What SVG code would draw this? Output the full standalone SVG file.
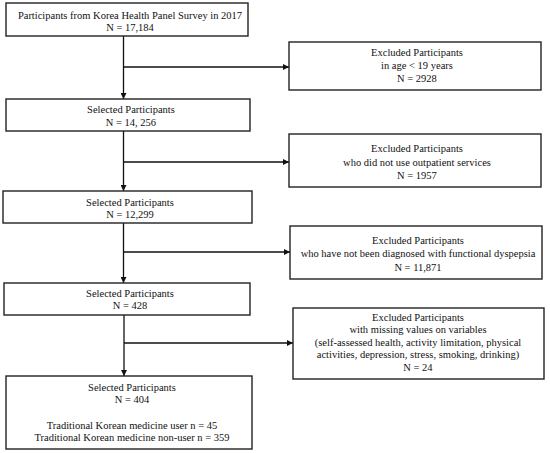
<svg xmlns="http://www.w3.org/2000/svg" width="550" height="453" viewBox="0 0 550 453">
<style>
.box{fill:#fff;stroke:#222;stroke-width:1.4}
.t{font-family:"Liberation Serif","Times New Roman",serif;font-size:10.5px;fill:#111;text-anchor:middle}
.c{fill:none;stroke:#111;stroke-width:1.3}
</style>
<defs>
<marker id="ah" viewBox="0 0 10 10" refX="10" refY="5" markerWidth="6" markerHeight="6" markerUnits="userSpaceOnUse" orient="auto">
<path d="M0,0 L10,5 L0,10 z" fill="#111"/>
</marker>
</defs>
<rect width="550" height="453" fill="#fff"/>
<g id="connectors">
<line class="c" x1="123.5" y1="36" x2="123.5" y2="99" marker-end="url(#ah)"/>
<line class="c" x1="123.5" y1="67" x2="289" y2="67" marker-end="url(#ah)"/>
<line class="c" x1="123.5" y1="131" x2="123.5" y2="191" marker-end="url(#ah)"/>
<line class="c" x1="123.5" y1="162" x2="289" y2="162" marker-end="url(#ah)"/>
<line class="c" x1="123.5" y1="223" x2="123.5" y2="283" marker-end="url(#ah)"/>
<line class="c" x1="123.5" y1="252" x2="290" y2="252" marker-end="url(#ah)"/>
<line class="c" x1="124" y1="315" x2="124" y2="376" marker-end="url(#ah)"/>
<line class="c" x1="124" y1="343" x2="293" y2="343" marker-end="url(#ah)"/>
</g>
<g id="n1">
<rect class="box" x="6" y="3" width="242" height="33"/>
<text class="t" x="130" y="18.5">Participants from Korea Health Panel Survey in 2017</text>
<text class="t" x="130" y="31">N = 17,184</text>
</g>
<g id="e1">
<rect class="box" x="289" y="42" width="252" height="48"/>
<text class="t" x="417" y="56">Excluded Participants</text>
<text class="t" x="417" y="69">in age &lt; 19 years</text>
<text class="t" x="417" y="82">N = 2928</text>
</g>
<g id="n2">
<rect class="box" x="6" y="99" width="244" height="32"/>
<text class="t" x="131" y="112.5">Selected Participants</text>
<text class="t" x="131" y="125.5">N = 14, 256</text>
</g>
<g id="e2">
<rect class="box" x="289" y="134" width="252" height="53"/>
<text class="t" x="417" y="152">Excluded Participants</text>
<text class="t" x="417" y="165.5">who did not use outpatient services</text>
<text class="t" x="417" y="179">N = 1957</text>
</g>
<g id="n3">
<rect class="box" x="3" y="191" width="249" height="32"/>
<text class="t" x="130" y="205.5">Selected Participants</text>
<text class="t" x="130" y="218">N = 12,299</text>
</g>
<g id="e3">
<rect class="box" x="290" y="226" width="252" height="53"/>
<text class="t" x="418" y="243.5">Excluded Participants</text>
<text class="t" x="418" y="257">who have not been diagnosed with functional dyspepsia</text>
<text class="t" x="418" y="270.5">N = 11,871</text>
</g>
<g id="n4">
<rect class="box" x="4" y="283" width="246" height="32"/>
<text class="t" x="130" y="296.5">Selected Participants</text>
<text class="t" x="130" y="309">N = 428</text>
</g>
<g id="e4">
<rect class="box" x="293" y="308" width="251" height="71"/>
<text class="t" x="418" y="320.5">Excluded Participants</text>
<text class="t" x="418" y="333">with missing values on variables</text>
<text class="t" x="418" y="345.5">(self-assessed health, activity limitation, physical</text>
<text class="t" x="418" y="358">activities, depression, stress, smoking, drinking)</text>
<text class="t" x="418" y="370.5">N = 24</text>
</g>
<g id="n5">
<rect class="box" x="6" y="376" width="246" height="73"/>
<text class="t" x="132" y="391">Selected Participants</text>
<text class="t" x="132" y="403">N = 404</text>
<text class="t" x="132" y="429">Traditional Korean medicine user n = 45</text>
<text class="t" x="132" y="441">Traditional Korean medicine non-user n = 359</text>
</g>
</svg>
